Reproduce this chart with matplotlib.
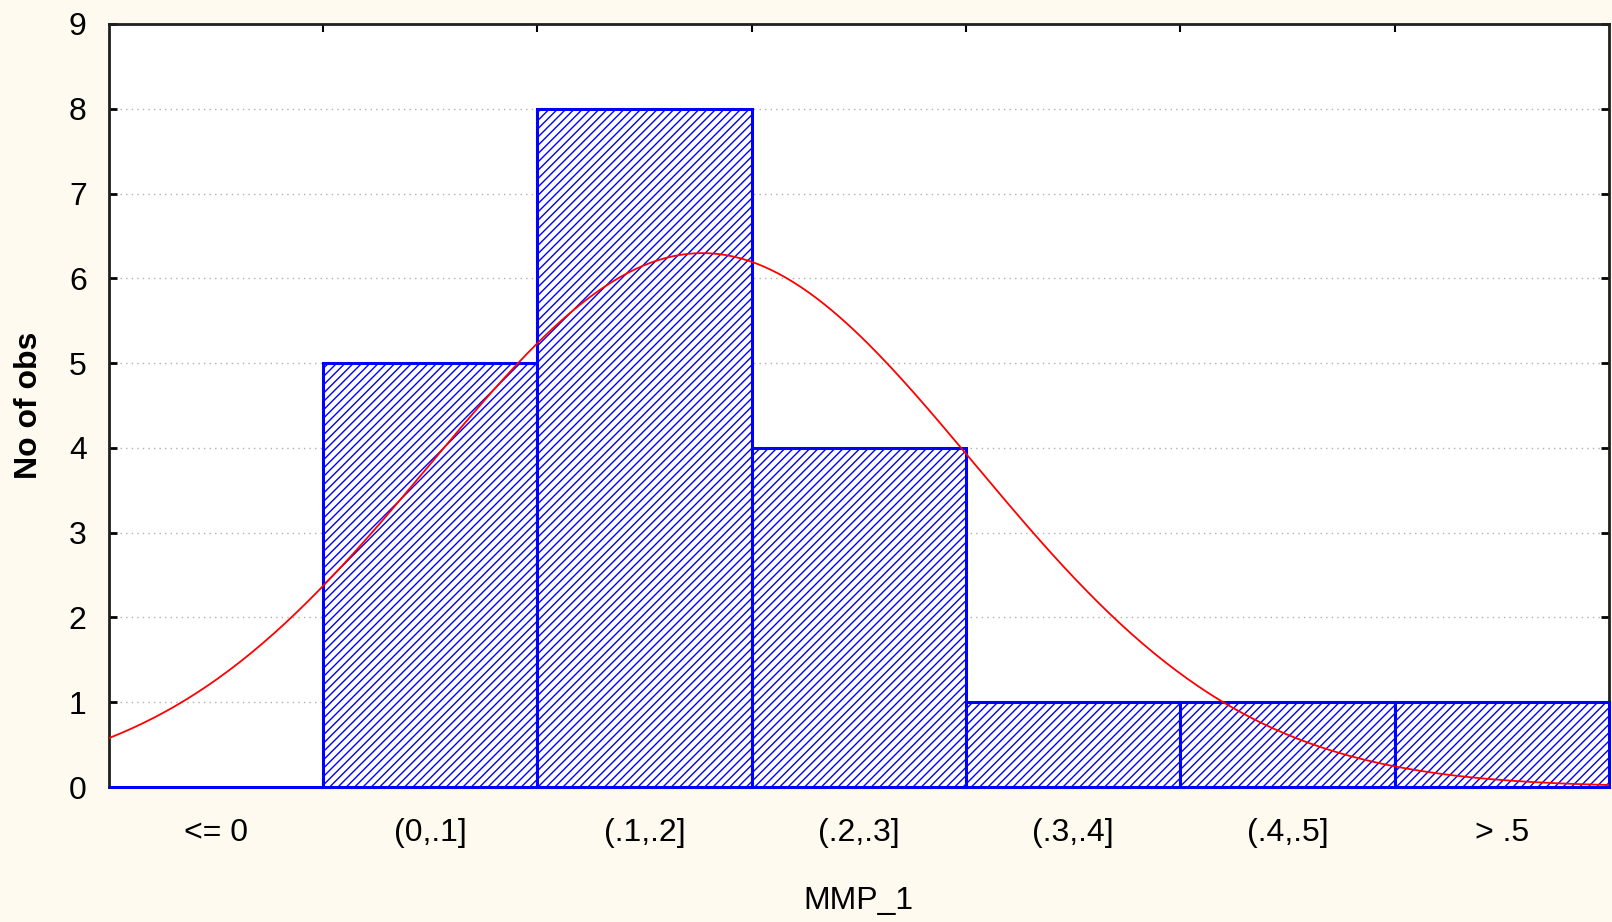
import numpy as np
import matplotlib.pyplot as plt

# Категории и частоты гистограммы
categories = ['<= 0', '(0,.1]', '(.1,.2]', '(.2,.3]', '(.3,.4]', '(.4,.5]', '> .5']
counts = [0, 5, 8, 4, 1, 1, 1]
y_ticks = [0, 1, 2, 3, 4, 5, 6, 7, 8, 9]

# Параметры ожидаемой нормальной кривой (оценены по графику)
fit_mean = 0.177
fit_sd = 0.1267
bin_width = 0.1

plt.rcParams['font.family'] = ['Liberation Sans', 'DejaVu Sans']
plt.rcParams['hatch.linewidth'] = 1.0

fig = plt.figure(figsize=(16.12, 9.22), dpi=100, facecolor='#fffaf0')
ax = fig.add_axes([0.0676, 0.1464, 0.9304, 0.8276])
ax.set_facecolor('white')

x = np.arange(len(categories))
ax.bar(x, counts, width=1.0, color='white', edgecolor='blue',
       hatch='////', linewidth=2.2, zorder=3, clip_on=False)

# Нормальная кривая: значение -> позиция на оси категорий
v = np.linspace(-0.1, 0.6, 400)
n = sum(counts)
curve = n * bin_width * np.exp(-0.5 * ((v - fit_mean) / fit_sd) ** 2) / (fit_sd * np.sqrt(2 * np.pi))
ax.plot(v / bin_width + 0.5, curve, color='red', linewidth=1.3, zorder=4)

ax.set_xlim(-0.5, len(categories) - 0.5)
ax.set_ylim(0, 9)
ax.set_yticks(y_ticks)
ax.set_xticks(x)
ax.set_xticklabels(categories)
ax.set_xticks(np.arange(0.5, len(categories) - 0.5), minor=True)

ax.yaxis.grid(True, linestyle=(0, (1, 3)), color='#b0b0b0', linewidth=1.0, zorder=1)
ax.set_axisbelow(True)

ax.tick_params(axis='y', direction='in', left=True, right=True, length=6, width=2,
               labelsize=23, pad=16)
ax.tick_params(axis='x', which='major', length=0, labelsize=23, pad=22)
ax.tick_params(axis='x', which='minor', direction='in', bottom=True, top=True,
               length=6, width=1.5)

for s in ax.spines.values():
    s.set_linewidth(2)
    s.set_color('#202020')

ax.set_ylabel('No of obs', fontsize=23, fontweight='bold', labelpad=18)
ax.set_xlabel('MMP_1', fontsize=23, labelpad=28)

fig.savefig('out.png', dpi=100, facecolor=fig.get_facecolor())
